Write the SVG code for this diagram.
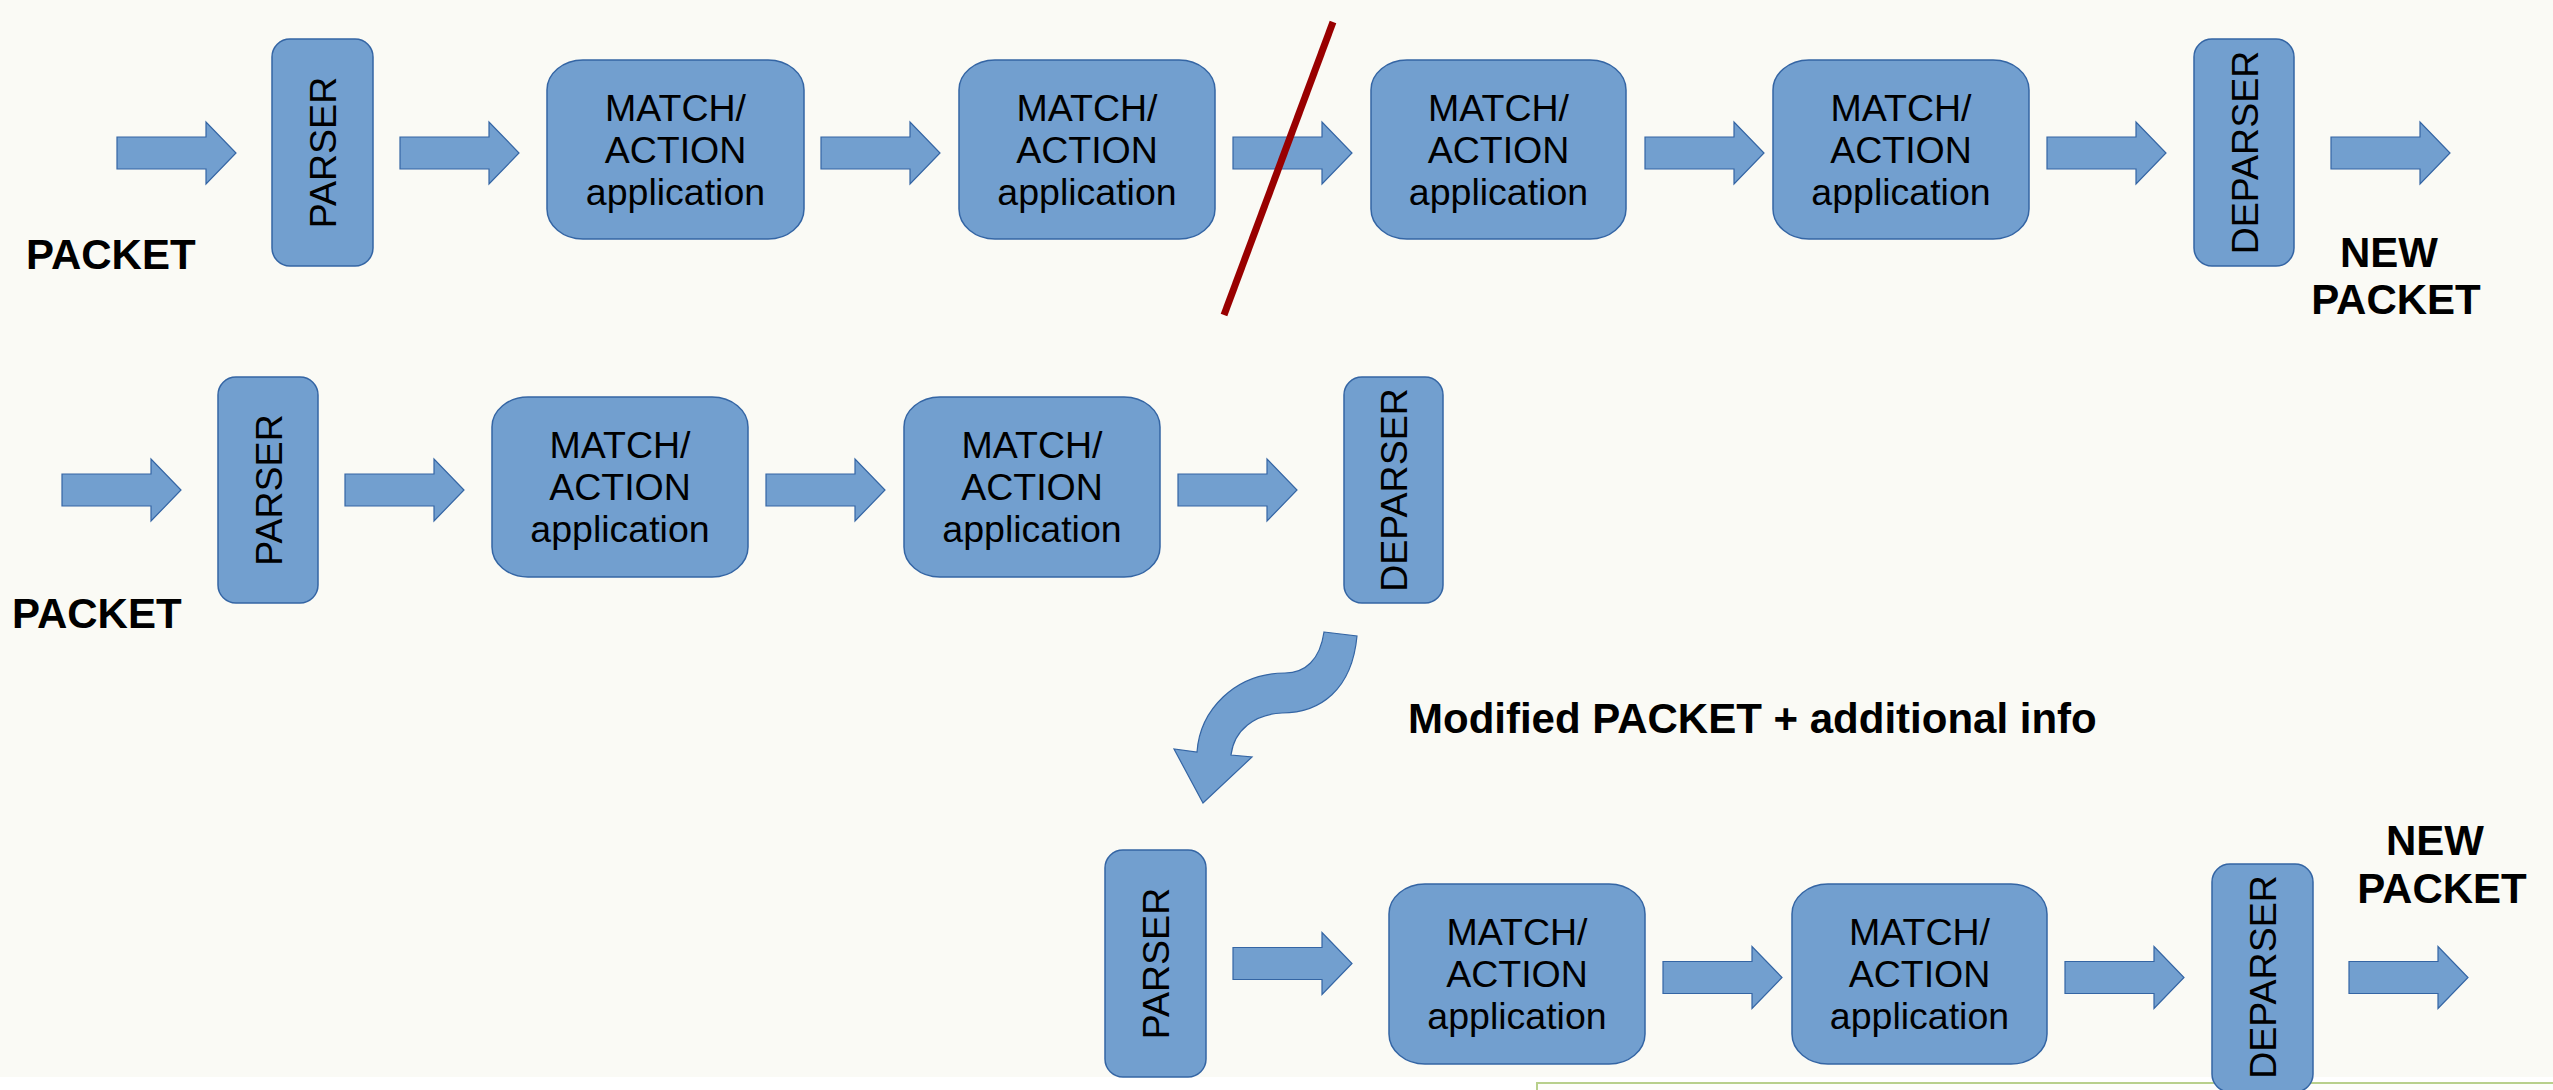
<svg xmlns="http://www.w3.org/2000/svg" xmlns:xlink="http://www.w3.org/1999/xlink" width="2553" height="1090" viewBox="0 0 2553 1090">
<style>
.box{fill:#729fcf;stroke:#3465a4;stroke-width:1.5}
.arr{fill:#729fcf;stroke:#3465a4;stroke-width:1.2}
.t{font-family:"Liberation Sans",Arial,sans-serif;font-size:37.5px;fill:#000;text-anchor:middle}
.v{font-size:37.5px}
.b{font-family:"Liberation Sans",Arial,sans-serif;font-size:42px;font-weight:bold;fill:#000}
.m{text-anchor:middle}
</style>
<defs>
<path id="arrow" d="M0,-16 H89 V-31 L119,0 L89,31 V16 H0 Z"/>
</defs>
<rect x="0" y="0" width="2553" height="1077" fill="#fafaf5"/>
<rect x="0" y="1077" width="2553" height="13" fill="#ffffff"/>
<rect x="1537" y="1083" width="1030" height="40" fill="#fdfdfb" stroke="#b8d08c" stroke-width="2"/>

<g id="connectors">
<use xlink:href="#arrow" class="arr" x="117" y="153"/>
<use xlink:href="#arrow" class="arr" x="400" y="153"/>
<use xlink:href="#arrow" class="arr" x="821" y="153"/>
<use xlink:href="#arrow" class="arr" x="1233" y="153"/>
<use xlink:href="#arrow" class="arr" x="1645" y="153"/>
<use xlink:href="#arrow" class="arr" x="2047" y="153"/>
<use xlink:href="#arrow" class="arr" x="2331" y="153"/>
<use xlink:href="#arrow" class="arr" x="62" y="490"/>
<use xlink:href="#arrow" class="arr" x="345" y="490"/>
<use xlink:href="#arrow" class="arr" x="766" y="490"/>
<use xlink:href="#arrow" class="arr" x="1178" y="490"/>
<use xlink:href="#arrow" class="arr" x="1233" y="963.5"/>
<use xlink:href="#arrow" class="arr" x="1663" y="977.5"/>
<use xlink:href="#arrow" class="arr" x="2065" y="977.5"/>
<use xlink:href="#arrow" class="arr" x="2349" y="977.5"/>
<path class="arr" d="M1324,632 L1357,636 C1352,690 1320,713 1282,713 C1255,714 1234,730 1231,755 L1252,757 L1203,803 L1174,749 L1197,752 C1200,710 1235,673 1285,673 C1305,673 1320,660 1324,632 Z"/>
</g>

<g id="strike">
<line x1="1333" y1="22" x2="1224" y2="315" stroke="#990000" stroke-width="7"/>
</g>

<g id="parser1"><rect class="box" x="272" y="39" width="101" height="227" rx="18"/><text class="t v" transform="translate(322.5,152.5) rotate(-90)" y="13.5">PARSER</text></g>
<g id="ma1"><rect class="box" x="547" y="60" width="257" height="179" rx="36" ry="30"/><text class="t" x="675.5" y="121">MATCH/</text><text class="t" x="675.5" y="163">ACTION</text><text class="t" x="675.5" y="205">application</text></g>
<g id="ma2"><rect class="box" x="959" y="60" width="256" height="179" rx="36" ry="30"/><text class="t" x="1087" y="121">MATCH/</text><text class="t" x="1087" y="163">ACTION</text><text class="t" x="1087" y="205">application</text></g>
<g id="ma3"><rect class="box" x="1371" y="60" width="255" height="179" rx="36" ry="30"/><text class="t" x="1498.5" y="121">MATCH/</text><text class="t" x="1498.5" y="163">ACTION</text><text class="t" x="1498.5" y="205">application</text></g>
<g id="ma4"><rect class="box" x="1773" y="60" width="256" height="179" rx="36" ry="30"/><text class="t" x="1901" y="121">MATCH/</text><text class="t" x="1901" y="163">ACTION</text><text class="t" x="1901" y="205">application</text></g>
<g id="deparser1"><rect class="box" x="2194" y="39" width="100" height="227" rx="18"/><text class="t v" transform="translate(2244,152.5) rotate(-90)" y="13.5">DEPARSER</text></g>

<g id="parser2"><rect class="box" x="218" y="377" width="100" height="226" rx="18"/><text class="t v" transform="translate(268,490) rotate(-90)" y="13.5">PARSER</text></g>
<g id="ma5"><rect class="box" x="492" y="397" width="256" height="180" rx="36" ry="30"/><text class="t" x="620" y="458">MATCH/</text><text class="t" x="620" y="500">ACTION</text><text class="t" x="620" y="542">application</text></g>
<g id="ma6"><rect class="box" x="904" y="397" width="256" height="180" rx="36" ry="30"/><text class="t" x="1032" y="458">MATCH/</text><text class="t" x="1032" y="500">ACTION</text><text class="t" x="1032" y="542">application</text></g>
<g id="deparser2"><rect class="box" x="1344" y="377" width="99" height="226" rx="18"/><text class="t v" transform="translate(1393.5,490) rotate(-90)" y="13.5">DEPARSER</text></g>

<g id="parser3"><rect class="box" x="1105" y="850" width="101" height="227" rx="18"/><text class="t v" transform="translate(1155.5,963.5) rotate(-90)" y="13.5">PARSER</text></g>
<g id="ma7"><rect class="box" x="1389" y="884" width="256" height="180" rx="36" ry="30"/><text class="t" x="1517" y="945">MATCH/</text><text class="t" x="1517" y="987">ACTION</text><text class="t" x="1517" y="1029">application</text></g>
<g id="ma8"><rect class="box" x="1792" y="884" width="255" height="180" rx="36" ry="30"/><text class="t" x="1919.5" y="945">MATCH/</text><text class="t" x="1919.5" y="987">ACTION</text><text class="t" x="1919.5" y="1029">application</text></g>
<g id="deparser3"><rect class="box" x="2212" y="864" width="101" height="228" rx="18"/><text class="t v" transform="translate(2262.5,977) rotate(-90)" y="13.5">DEPARSER</text></g>

<g id="labels">
<text class="b" x="26" y="269">PACKET</text>
<text class="b m" x="2389" y="267">NEW</text>
<text class="b m" x="2396" y="314">PACKET</text>
<text class="b" x="12" y="628">PACKET</text>
<text class="b" x="1408" y="733">Modified PACKET + additional info</text>
<text class="b m" x="2435" y="855">NEW</text>
<text class="b m" x="2442" y="903">PACKET</text>
</g>
</svg>
